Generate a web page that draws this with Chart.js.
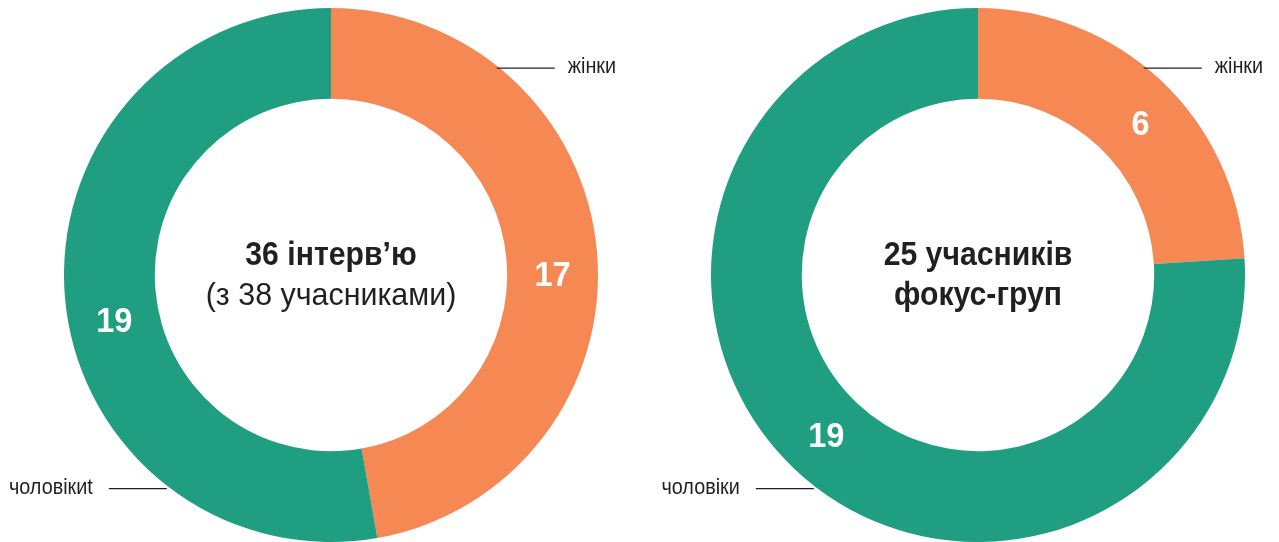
<!DOCTYPE html>
<html>
<head>
<meta charset="utf-8">
<script src="https://cdn.jsdelivr.net/npm/chart.js@4.4.0/dist/chart.umd.min.js"></script>
<style>
    html, body { margin: 0; padding: 0; background: #fff; }
    #graficoIzq { position: absolute; left: 0; top: 0; }
    #graficoDer { position: absolute; left: 640px; top: 0; }
</style>
</head>
<body>
<canvas id="graficoIzq" width="640" height="542"></canvas>
<canvas id="graficoDer" width="639" height="542"></canvas>
<script>
// Datos
const categorias = ['жінки', 'чоловіки'];
const etiquetasIzq = ['жінки', 'чоловікиt'];
const valoresEntrevistas = [17, 19];
const valoresFocus = [6, 19];
const colores = ['#F58853', '#1F9E82'];
const centroIzq = [['36 інтерв’ю', 'bold'], ['(з 38 учасниками)', 'normal']];
const centroDer = [['25 учасників', 'bold'], ['фокус-груп', 'bold']];

const FUENTE = '"Liberation Sans", Arial, sans-serif';
Chart.defaults.font.family = FUENTE;

// texto comprimido horizontalmente (simula Arial Narrow)
function texto(ctx, s, x, y, font, align, sx) {
    ctx.save();
    ctx.font = font;
    ctx.textAlign = align;
    ctx.translate(x, y);
    ctx.scale(sx, 1);
    ctx.fillText(s, 0, 0);
    ctx.restore();
}

// Plugin: números, texto central y etiquetas con línea guía
const pluginEtiquetas = {
    id: 'etiquetas',
    afterDatasetsDraw(chart, args, opts) {
        const ctx = chart.ctx;
        const meta = chart.getDatasetMeta(0);
        const arco0 = meta.data[0];
        const cx = arco0.x, cy = arco0.y, r = arco0.outerRadius;
        ctx.save();
        ctx.textBaseline = 'middle';
        // números dentro de cada sector
        ctx.fillStyle = '#fff';
        meta.data.forEach((arco, i) => {
            const a = (arco.startAngle + arco.endAngle) / 2 + opts.desvio[i] * Math.PI / 180;
            const rm = (arco.innerRadius + arco.outerRadius) / 2;
            texto(ctx, chart.data.datasets[0].data[i], cx + Math.cos(a) * rm, cy + Math.sin(a) * rm + 1,
                'bold 35px ' + FUENTE, 'center', 0.93);
        });
        // texto central
        ctx.fillStyle = '#231f20';
        opts.centro.forEach((linea, i) => {
            const bold = linea[1] === 'bold';
            texto(ctx, linea[0], cx, cy + [-19, 21][i],
                bold ? 'bold 33px ' + FUENTE : '32px ' + FUENTE, 'center', bold ? 0.915 : 0.95);
        });
        // etiquetas laterales
        ctx.strokeStyle = '#231f20';
        ctx.lineWidth = 1.2;
        const labels = chart.data.labels;
        // жінки (arriba derecha)
        const dy1 = -0.775 * r;
        const x1 = cx + Math.sqrt(r * r - dy1 * dy1) - 3;
        ctx.beginPath();
        ctx.moveTo(x1, cy + dy1);
        ctx.lineTo(x1 + 58, cy + dy1);
        ctx.stroke();
        texto(ctx, labels[0], x1 + 71, cy + dy1 - 1, '22px ' + FUENTE, 'left', 0.9);
        // чоловіки (abajo izquierda)
        const dy2 = 0.8 * r;
        const x2 = cx - Math.sqrt(r * r - dy2 * dy2) - 4;
        ctx.beginPath();
        ctx.moveTo(x2 - 58, cy + dy2);
        ctx.lineTo(x2, cy + dy2);
        ctx.stroke();
        texto(ctx, labels[1], x2 - 74, cy + dy2 - 1, '22px ' + FUENTE, 'right', 0.9);
        ctx.restore();
    }
};

function crearDona(id, etiquetas, valores, centro, desvio, padding) {
    return new Chart(document.getElementById(id).getContext('2d'), {
        type: 'doughnut',
        data: {
            labels: etiquetas,
            datasets: [{
                data: valores,
                backgroundColor: colores,
                borderWidth: 0
            }]
        },
        options: {
            responsive: false,
            animation: false,
            cutout: '66%',
            layout: { padding: padding },
            plugins: {
                legend: { display: false },
                tooltip: { enabled: false },
                etiquetas: { centro: centro, desvio: desvio }
            }
        },
        plugins: [pluginEtiquetas]
    });
}

crearDona('graficoIzq', etiquetasIzq, valoresEntrevistas, centroIzq, [5, -7],
    { left: 64, right: 42, top: 8, bottom: 0 });
crearDona('graficoDer', categorias, valoresFocus, centroDer, [4, 0],
    { left: 71, right: 34, top: 8, bottom: 0 });
</script>
</body>
</html>
